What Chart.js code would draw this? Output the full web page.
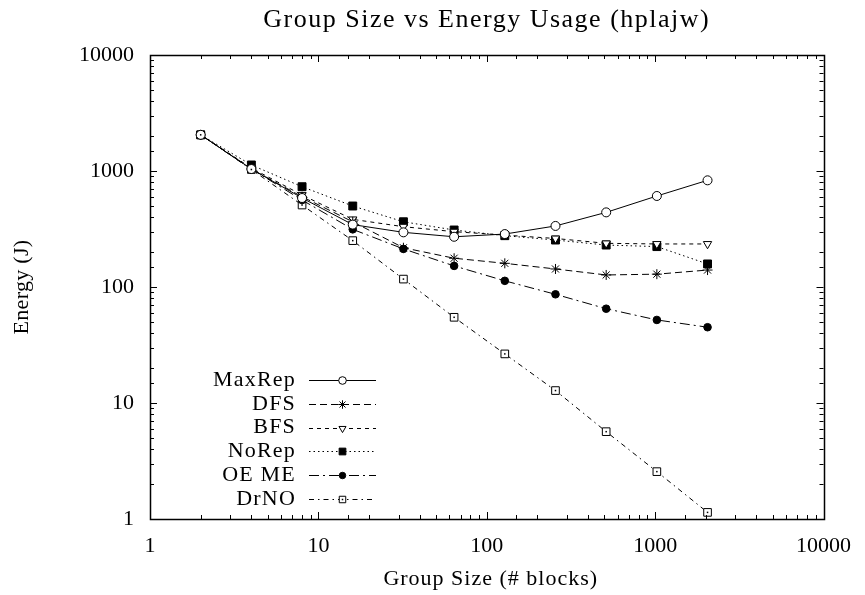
<!DOCTYPE html>
<html>
<head>
<meta charset="utf-8">
<script src="https://cdn.jsdelivr.net/npm/chart.js@4.4.1/dist/chart.umd.min.js"></script>
<style>
  html, body { margin: 0; padding: 0; background: #fff; }
  #wrap { width: 865px; height: 595px; }
</style>
</head>
<body>
<div id="wrap"><canvas id="c" width="865" height="595"></canvas></div>
<script>
// Group sizes (# blocks) and energy (J) for each replication strategy
const groupSizes = [2, 4, 8, 16, 32, 64, 128, 256, 512, 1024, 2048];
const maxRep = [2050, 1040, 585, 345, 296, 271, 286, 336, 440, 609, 831];
const dfs    = [2050, 1040, 600, 365, 218, 177, 160, 143, 127, 129, 140];
const bfs    = [2050, 1060, 621, 383, 331, 300, 280, 262, 238, 235, 235];
const noRep  = [2050, 1127, 732, 499, 365, 310, 277, 254, 230, 223, 158];
const oeMe   = [2050, 1040, 562, 314, 213, 152, 113, 86.5, 65, 52, 45];
const drNo   = [2050, 1030, 509, 251, 117, 54.8, 26.5, 12.8, 5.66, 2.56, 1.14];
const seriesNames = ['MaxRep', 'DFS', 'BFS', 'NoRep', 'OE ME', 'DrNO'];
const decadeTicks = [1, 10, 100, 1000, 10000];

const chartTitle = 'Group Size vs Energy Usage (hplajw)';
const xTitle = 'Group Size (# blocks)';
const yTitle = 'Energy (J)';

const FONT = 'Liberation Serif';
const INK = '#000';

const toPoints = ys => groupSizes.map((g, i) => ({ x: g, y: ys[i] }));

function series(label, ys, dash, style, radius, filled, rotation) {
  return {
    label,
    data: toPoints(ys),
    borderColor: INK,
    borderWidth: 1,
    borderDash: dash,
    pointStyle: style,
    pointRadius: radius,
    pointHoverRadius: radius,
    pointRotation: rotation || 0,
    pointBorderColor: INK,
    pointBorderWidth: 1,
    pointBackgroundColor: filled ? INK : '#fff',
    fill: false,
    tension: 0
  };
}

const isDecade = v => Math.abs(Math.log10(v) - Math.round(Math.log10(v))) < 1e-9;

function setText(ctx, size, spacing) {
  ctx.font = size + 'px "' + FONT + '"';
  ctx.letterSpacing = spacing + 'px';
  ctx.fillStyle = INK;
}

// gnuplot-like frame with inward major/minor ticks on all four sides
const framePlugin = {
  id: 'frame',
  afterDraw(chart) {
    const { ctx, chartArea: a, scales } = chart;
    ctx.save();
    ctx.strokeStyle = INK;
    ctx.lineWidth = 1;
    ctx.beginPath();
    scales.x.ticks.forEach(t => {
      const px = Math.round(scales.x.getPixelForValue(t.value)) + 0.5;
      const len = isDecade(t.value) ? 7 : 4;
      ctx.moveTo(px, a.bottom); ctx.lineTo(px, a.bottom - len);
      ctx.moveTo(px, a.top); ctx.lineTo(px, a.top + len);
    });
    scales.y.ticks.forEach(t => {
      const py = Math.round(scales.y.getPixelForValue(t.value)) + 0.5;
      const len = isDecade(t.value) ? 7 : 4;
      ctx.moveTo(a.left, py); ctx.lineTo(a.left + len, py);
      ctx.moveTo(a.right, py); ctx.lineTo(a.right - len, py);
    });
    ctx.stroke();
    ctx.lineWidth = 1.5;
    ctx.strokeRect(Math.round(a.left) + 0.5, Math.round(a.top) + 0.5,
                   Math.round(a.right - a.left), Math.round(a.bottom - a.top));
    ctx.restore();
  }
};

// chart title and axis titles, centred on the plot area
const titlesPlugin = {
  id: 'titles',
  afterDraw(chart) {
    const { ctx, chartArea: a } = chart;
    const cx = (a.left + a.right) / 2;
    const cy = (a.top + a.bottom) / 2;
    ctx.save();
    ctx.textAlign = 'center';
    ctx.textBaseline = 'middle';
    setText(ctx, 26, 1.5);
    ctx.fillText(chartTitle, cx, 20);
    setText(ctx, 22, 1);
    ctx.fillText(xTitle, cx + 4, 579);
    ctx.translate(22, cy);
    ctx.rotate(-Math.PI / 2);
    setText(ctx, 22, 0.3);
    ctx.fillText(yTitle, 0, 0);
    ctx.restore();
  }
};

// small centre dot inside the open DrNO squares
const dotPlugin = {
  id: 'centreDots',
  afterDatasetsDraw(chart) {
    const meta = chart.getDatasetMeta(5);
    const ctx = chart.ctx;
    ctx.save();
    ctx.fillStyle = INK;
    meta.data.forEach(el => ctx.fillRect(el.x - 0.75, el.y - 0.75, 1.5, 1.5));
    ctx.restore();
  }
};

// key box: right-aligned names, line sample with the point symbol in the middle
const keyPlugin = {
  id: 'key',
  afterDraw(chart) {
    const ctx = chart.ctx;
    const textRight = 296, lineL = 309, lineR = 376, top = 380, step = 23.8;
    ctx.save();
    chart.data.datasets.forEach((ds, i) => {
      const y = top + i * step;
      setText(ctx, 22, 1.2);
      ctx.textAlign = 'right';
      ctx.textBaseline = 'middle';
      ctx.fillText(ds.label, textRight, y);
      ctx.letterSpacing = '0px';
      ctx.strokeStyle = INK;
      ctx.lineWidth = 1;
      ctx.setLineDash(ds.borderDash);
      ctx.beginPath();
      ctx.moveTo(lineL, Math.round(y) + 0.5);
      ctx.lineTo(lineR, Math.round(y) + 0.5);
      ctx.stroke();
      ctx.setLineDash([]);
      ctx.fillStyle = ds.pointBackgroundColor;
      ctx.strokeStyle = INK;
      const mx = (lineL + lineR) / 2, my = Math.round(y) + 0.5;
      Chart.helpers.drawPoint(ctx, {
        pointStyle: ds.pointStyle,
        radius: ds.pointRadius * 0.85,
        rotation: ds.pointRotation,
        borderWidth: 1
      }, mx, my);
      if (i === 5) {
        ctx.fillStyle = INK;
        ctx.fillRect(mx - 0.75, my - 0.75, 1.5, 1.5);
      }
    });
    ctx.restore();
  }
};

new Chart(document.getElementById('c'), {
  type: 'line',
  data: {
    datasets: [
      series(seriesNames[0], maxRep, [], 'circle', 4.5, false),
      series(seriesNames[1], dfs, [7, 4], 'star', 5, false),
      series(seriesNames[2], bfs, [4, 4], 'triangle', 4.8, false, 180),
      series(seriesNames[3], noRep, [1.5, 3], 'rect', 5.6, true),
      series(seriesNames[4], oeMe, [10, 4, 2, 4], 'circle', 3.8, true),
      series(seriesNames[5], drNo, [5, 4, 1.5, 4], 'rect', 5.4, false)
    ]
  },
  options: {
    responsive: false,
    animation: false,
    devicePixelRatio: 1,
    layout: { padding: { left: 0, right: 35, top: 55, bottom: 0 } },
    plugins: {
      legend: { display: false },
      tooltip: { enabled: false },
      title: { display: false }
    },
    scales: {
      x: {
        type: 'logarithmic',
        min: 1,
        max: 10000,
        grid: { display: false, drawTicks: false },
        border: { display: false },
        ticks: {
          color: INK,
          padding: 14,
          maxRotation: 0,
          autoSkip: false,
          font: { family: FONT, size: 22 },
          callback: v => decadeTicks.includes(v) ? String(v) : ''
        },
        afterFit: s => { s.height = 76; }
      },
      y: {
        type: 'logarithmic',
        min: 1,
        max: 10000,
        grid: { display: false, drawTicks: false },
        border: { display: false },
        ticks: {
          color: INK,
          padding: 16,
          autoSkip: false,
          font: { family: FONT, size: 22 },
          callback: v => decadeTicks.includes(v) ? String(v) : ''
        },
        afterFit: s => { s.width = 150; }
      }
    }
  },
  plugins: [framePlugin, titlesPlugin, dotPlugin, keyPlugin]
});
</script>
</body>
</html>
